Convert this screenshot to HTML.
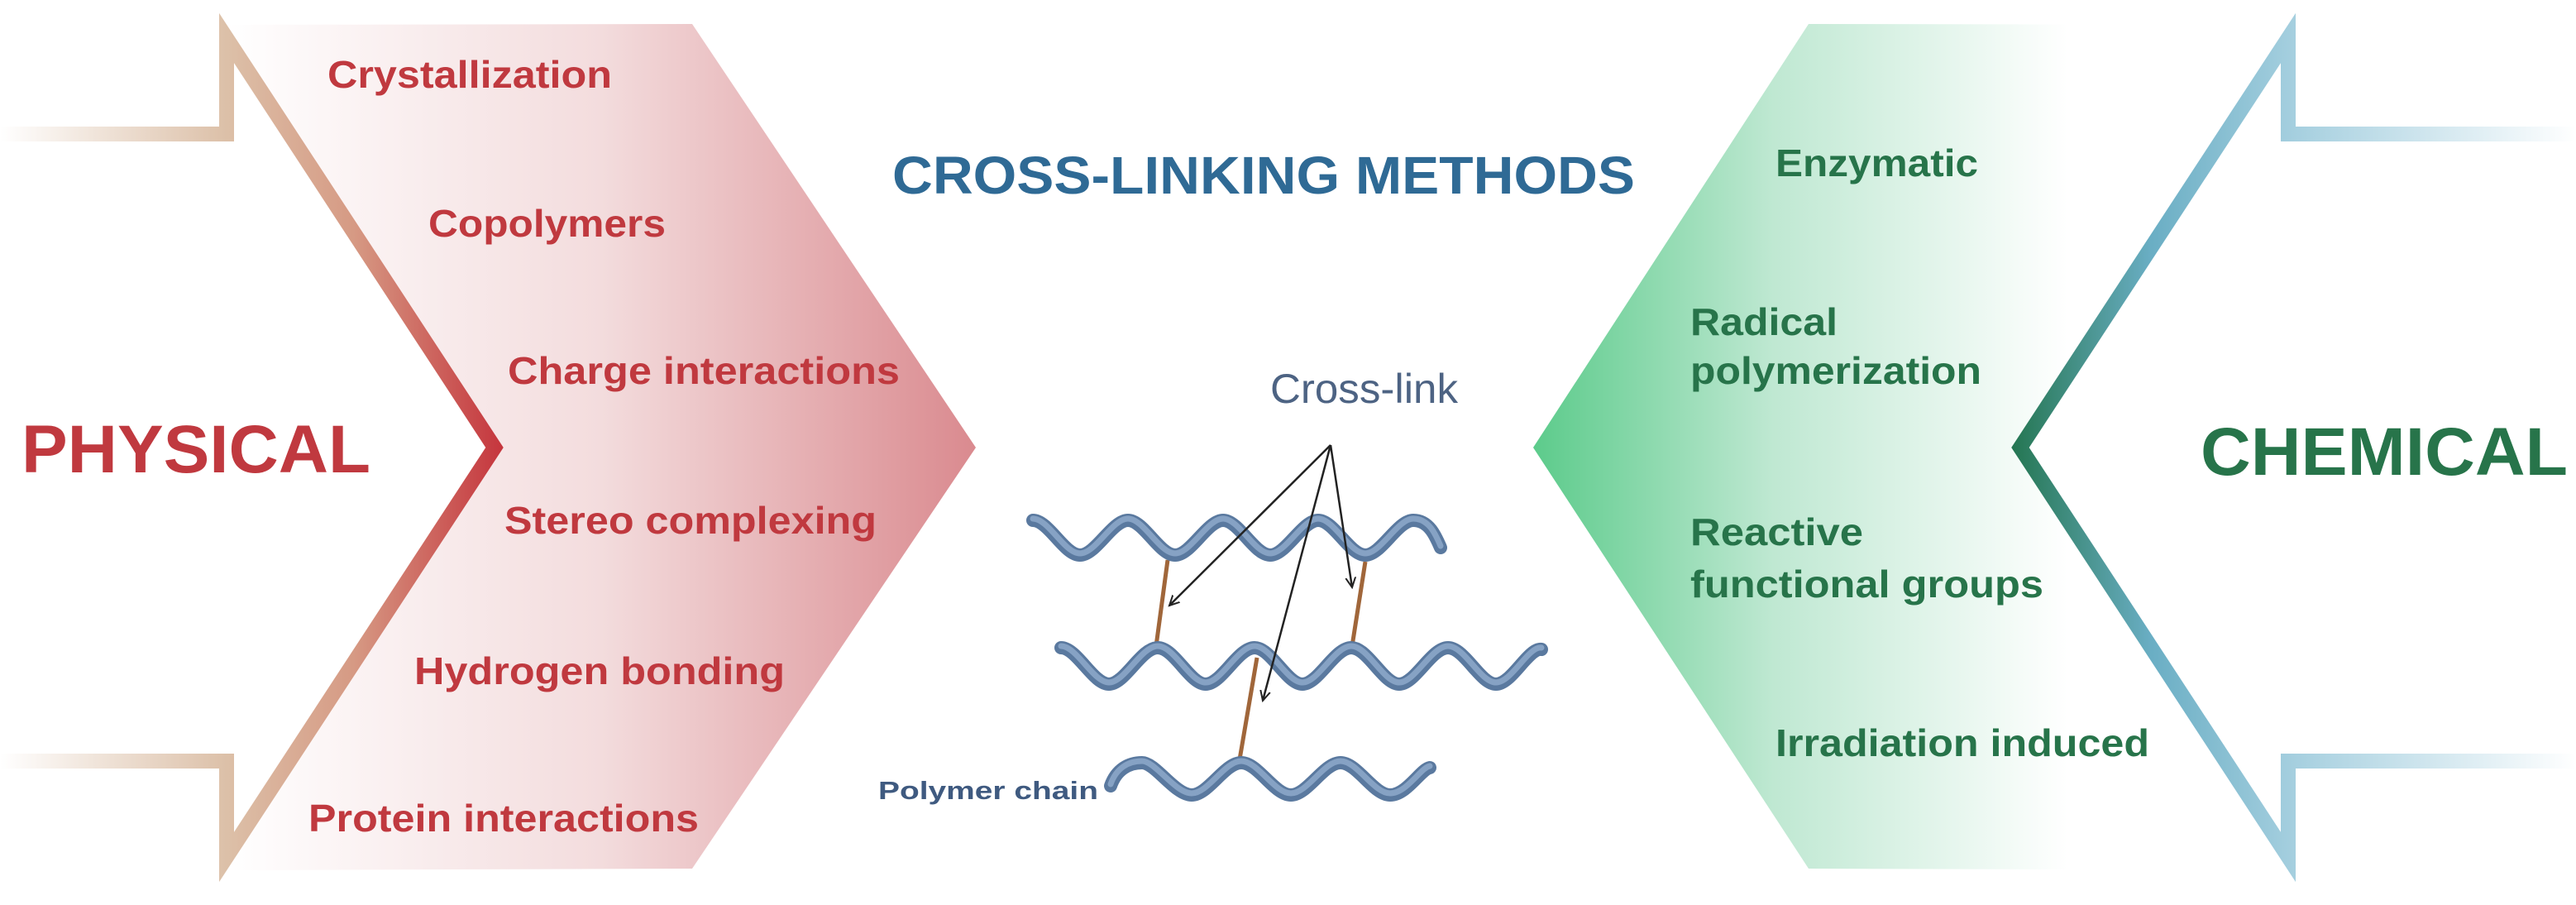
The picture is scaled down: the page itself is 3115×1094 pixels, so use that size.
<!DOCTYPE html>
<html><head><meta charset="utf-8"><style>
html,body{margin:0;padding:0;background:#fff;}
svg{display:block;}
text{font-family:"Liberation Sans",Arial,sans-serif;}
</style></head><body>
<svg width="3115" height="1094" viewBox="0 0 3115 1094" xmlns="http://www.w3.org/2000/svg">
<defs>
<linearGradient id="pinkfill" x1="274" y1="0" x2="1180" y2="0" gradientUnits="userSpaceOnUse">
<stop offset="0" stop-color="#ffffff"/><stop offset="0.5" stop-color="#f3dcdd"/><stop offset="1" stop-color="#da8a8f"/>
</linearGradient>
<linearGradient id="greenfill" x1="1854" y1="0" x2="2500" y2="0" gradientUnits="userSpaceOnUse">
<stop offset="0" stop-color="#5ccb8b"/><stop offset="0.45" stop-color="#bfe8d2"/><stop offset="1" stop-color="#ffffff"/>
</linearGradient>
<linearGradient id="leftline" x1="0" y1="0" x2="610" y2="0" gradientUnits="userSpaceOnUse">
<stop offset="0" stop-color="#ffffff"/><stop offset="0.45" stop-color="#dcc0a8"/><stop offset="0.7" stop-color="#d69a84"/><stop offset="1" stop-color="#c5343c"/>
</linearGradient>
<linearGradient id="rightline" x1="3115" y1="0" x2="2430" y2="0" gradientUnits="userSpaceOnUse">
<stop offset="0" stop-color="#ffffff"/><stop offset="0.5" stop-color="#a5cfdf"/><stop offset="0.75" stop-color="#6aaec4"/><stop offset="1" stop-color="#237550"/>
</linearGradient>
<marker id="ah" markerWidth="14" markerHeight="14" refX="12" refY="7" orient="auto" markerUnits="userSpaceOnUse">
<path d="M0,1 L12,7 L0,13" fill="none" stroke="#222" stroke-width="2"/>
</marker>
</defs>

<polygon points="274,30 837,29 1180,541 837,1050 274,1052 598,541" fill="url(#pinkfill)"/>
<polygon points="2187,29 2767,30 2443,541 2767,1052 2187,1050 1854,541" fill="url(#greenfill)"/>

<path d="M0,162 L274,162 L274,46 L598,541 L274,1036 L274,920 L0,920" fill="none" stroke="url(#leftline)" stroke-width="18" stroke-linejoin="miter" stroke-miterlimit="10"/>
<path d="M3115,162 L2767,162 L2767,46 L2443,541 L2767,1036 L2767,920 L3115,920" fill="none" stroke="url(#rightline)" stroke-width="18" stroke-linejoin="miter" stroke-miterlimit="10"/>

<g fill="#c0393f" font-weight="bold" font-size="46">
<text x="396" y="106" textLength="344" lengthAdjust="spacingAndGlyphs">Crystallization</text>
<text x="518" y="286" textLength="287" lengthAdjust="spacingAndGlyphs">Copolymers</text>
<text x="614" y="464" textLength="474" lengthAdjust="spacingAndGlyphs">Charge interactions</text>
<text x="610" y="645" textLength="450" lengthAdjust="spacingAndGlyphs">Stereo complexing</text>
<text x="501" y="827" textLength="448" lengthAdjust="spacingAndGlyphs">Hydrogen bonding</text>
<text x="373" y="1005" textLength="472" lengthAdjust="spacingAndGlyphs">Protein interactions</text>
<text x="26" y="571" font-size="82" textLength="422" lengthAdjust="spacingAndGlyphs">PHYSICAL</text>
</g>

<g fill="#27744a" font-weight="bold" font-size="46">
<text x="2147" y="213" textLength="245" lengthAdjust="spacingAndGlyphs">Enzymatic</text>
<text x="2044" y="405" textLength="178" lengthAdjust="spacingAndGlyphs">Radical</text>
<text x="2044" y="464" textLength="352" lengthAdjust="spacingAndGlyphs">polymerization</text>
<text x="2044" y="659" textLength="209" lengthAdjust="spacingAndGlyphs">Reactive</text>
<text x="2044" y="722" textLength="427" lengthAdjust="spacingAndGlyphs">functional groups</text>
<text x="2147" y="914" textLength="452" lengthAdjust="spacingAndGlyphs">Irradiation induced</text>
<text x="2661" y="574" font-size="82" textLength="444" lengthAdjust="spacingAndGlyphs">CHEMICAL</text>
</g>

<text x="1079" y="234" fill="#2f6a95" font-weight="bold" font-size="64" textLength="898" lengthAdjust="spacingAndGlyphs">CROSS-LINKING METHODS</text>
<text x="1536" y="487" fill="#4d6383" font-size="50" textLength="227" lengthAdjust="spacingAndGlyphs">Cross-link</text>
<text x="1062" y="966" fill="#3f5a80" font-weight="bold" font-size="31" textLength="266" lengthAdjust="spacingAndGlyphs">Polymer chain</text>

<g stroke="#a0663a" stroke-width="5">
<line x1="1412" y1="677" x2="1398" y2="781"/>
<line x1="1651" y1="679" x2="1635" y2="781"/>
<line x1="1520" y1="795" x2="1499" y2="918"/>
</g>

<g fill="none" stroke-linecap="round">
<g stroke="#5a799f" stroke-width="16">
<path d="M1249,629 C1268,629 1287,671 1306,671 S1345,629 1364,629 S1402,671 1421,671 S1460,629 1479,629 S1517,671 1536,671 S1575,629 1594,629 S1632,671 1651,671 S1690,629 1709,629 S1736,648 1742,662"/>
<path d="M1283,783 C1302,783 1322,827 1341,827 S1380,783 1400,783 S1439,827 1458,827 S1497,783 1517,783 S1556,827 1575,827 S1614,783 1634,783 S1673,827 1692,827 S1731,783 1751,783 S1790,827 1809,827 S1848,783 1864,785"/>
<path d="M1343,950 C1350,930 1365,922 1381,922 S1421,961 1441,961 S1481,922 1501,922 S1541,961 1561,961 S1601,922 1621,922 S1661,961 1681,961 S1718,930 1729,928"/>
</g>
<g stroke="#86a2c4" stroke-width="7" transform="translate(0,-2)">
<path d="M1249,629 C1268,629 1287,671 1306,671 S1345,629 1364,629 S1402,671 1421,671 S1460,629 1479,629 S1517,671 1536,671 S1575,629 1594,629 S1632,671 1651,671 S1690,629 1709,629 S1736,648 1742,662"/>
<path d="M1283,783 C1302,783 1322,827 1341,827 S1380,783 1400,783 S1439,827 1458,827 S1497,783 1517,783 S1556,827 1575,827 S1614,783 1634,783 S1673,827 1692,827 S1731,783 1751,783 S1790,827 1809,827 S1848,783 1864,785"/>
<path d="M1343,950 C1350,930 1365,922 1381,922 S1421,961 1441,961 S1481,922 1501,922 S1541,961 1561,961 S1601,922 1621,922 S1661,961 1681,961 S1718,930 1729,928"/>
</g>
</g>

<g stroke="#222" stroke-width="2.5" fill="none">
<line x1="1609" y1="538" x2="1414" y2="732" marker-end="url(#ah)"/>
<line x1="1609" y1="538" x2="1635" y2="710" marker-end="url(#ah)"/>
<line x1="1609" y1="538" x2="1527" y2="847" marker-end="url(#ah)"/>
</g>
</svg>
</body></html>
